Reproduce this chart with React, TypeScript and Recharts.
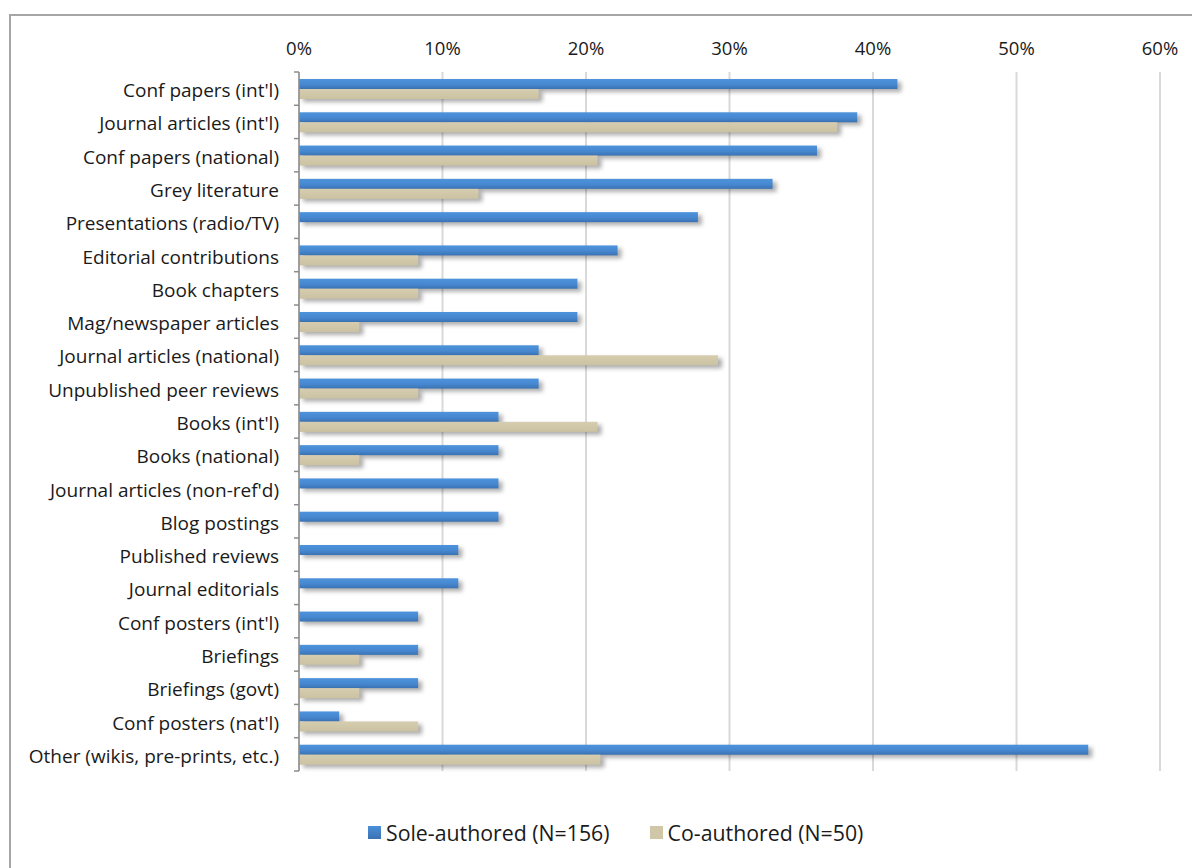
import React from 'react';
import { BarChart, Bar, XAxis, YAxis, CartesianGrid } from 'recharts';

const categories = [
  "Conf papers (int'l)",
  "Journal articles (int'l)",
  'Conf papers (national)',
  'Grey literature',
  'Presentations (radio/TV)',
  'Editorial contributions',
  'Book chapters',
  'Mag/newspaper articles',
  'Journal articles (national)',
  'Unpublished peer reviews',
  "Books (int'l)",
  'Books (national)',
  "Journal articles (non-ref'd)",
  'Blog postings',
  'Published reviews',
  'Journal editorials',
  "Conf posters (int'l)",
  'Briefings',
  'Briefings (govt)',
  "Conf posters (nat'l)",
  'Other (wikis, pre-prints, etc.)',
];

const soleAuthored = [41.7, 38.9, 36.1, 33.0, 27.8, 22.2, 19.4, 19.4, 16.7, 16.7, 13.9, 13.9, 13.9, 13.9, 11.1, 11.1, 8.3, 8.3, 8.3, 2.8, 55.0];
const coAuthored = [16.7, 37.5, 20.8, 12.5, 0, 8.3, 8.3, 4.2, 29.2, 8.3, 20.8, 4.2, 0, 0, 0, 0, 0, 4.2, 4.2, 8.3, 21.0];

const xTicks = [0, 10, 20, 30, 40, 50, 60];

const seriesNames = ['Sole-authored (N=156)', 'Co-authored (N=50)'];

const data = categories.map((name, i) => ({ name, sole: soleAuthored[i], co: coAuthored[i] }));

const FONT = '"Open Sans", Lato, sans-serif';

const makeShape = (fillId: string) => (props: any) => {
  const { x, y, width, height } = props;
  if (!width || width <= 0) return <g />;
  return (
    <g>
      <rect x={x + 4} y={y + 3} width={width} height={height} fill="rgba(0,0,0,0.32)" filter="url(#barShadowBlur)" />
      <rect x={x} y={y} width={width} height={height} fill={`url(#${fillId})`} />
    </g>
  );
};

const CategoryTick = (props: any) => {
  const { x, y, payload, index } = props;
  const off = payload && payload.offset ? payload.offset : 0;
  const last = index === categories.length - 1;
  return (
    <g>
      <line x1={x - 5} x2={x} y1={y - off} y2={y - off} stroke="#8c8c8c" strokeWidth={1.5} />
      {last && <line x1={x - 5} x2={x} y1={y + off} y2={y + off} stroke="#8c8c8c" strokeWidth={1.5} />}
      <text x={x - 20} y={y} dy="0.45em" textAnchor="end" fill="#1a1a1a" fontSize={19} fontFamily={FONT}>
        {payload.value}
      </text>
    </g>
  );
};

export default function App() {
  return (
    <div style={{ position: 'relative', width: 1192, height: 860, overflow: 'hidden', background: '#fff', fontFamily: FONT }}>
      <div
        style={{
          position: 'absolute',
          left: 1,
          top: 6,
          width: 1400,
          height: 1200,
          border: '2px solid #a6a6a6',
          boxSizing: 'border-box',
        }}
      />
      <div style={{ position: 'absolute', left: 0, top: 0 }}>
        <BarChart
          width={1192}
          height={860}
          data={data}
          layout="vertical"
          margin={{ top: 0, right: 40, bottom: 97, left: 0 }}
          barSize={10}
          barGap={0}
        >
          <defs>
            <linearGradient id="blueGrad" x1="0" y1="0" x2="0" y2="1">
              <stop offset="0%" stopColor="#4d93dc" />
              <stop offset="55%" stopColor="#4788d0" />
              <stop offset="100%" stopColor="#3a72b3" />
            </linearGradient>
            <linearGradient id="beigeGrad" x1="0" y1="0" x2="0" y2="1">
              <stop offset="0%" stopColor="#d6cdb0" />
              <stop offset="100%" stopColor="#cbc2a2" />
            </linearGradient>
            <filter id="barShadowBlur" x="-20%" y="-100%" width="140%" height="300%">
              <feGaussianBlur stdDeviation="2" />
            </filter>
          </defs>
          <CartesianGrid horizontal={false} stroke="#d9d9d9" strokeWidth={2} />
          <XAxis
            type="number"
            orientation="top"
            domain={[0, 60]}
            ticks={xTicks}
            tickFormatter={(v: number) => `${v}%`}
            axisLine={false}
            tickLine={false}
            tickMargin={11}
            height={64}
            tick={{ fill: '#1a1a1a', fontSize: 18.5, fontFamily: FONT }}
            interval={0}
          />
          <YAxis
            type="category"
            dataKey="name"
            width={291}
            interval={0}
            tickLine={false}
            tickSize={0}
            tickMargin={0}
            axisLine={{ stroke: '#8c8c8c', strokeWidth: 1.5 }}
            tick={<CategoryTick />}
          />
          <Bar dataKey="sole" name={seriesNames[0]} isAnimationActive={false} shape={makeShape('blueGrad')} />
          <Bar dataKey="co" name={seriesNames[1]} isAnimationActive={false} shape={makeShape('beigeGrad')} />
        </BarChart>
      </div>
      <div
        style={{
          position: 'absolute',
          left: 360,
          top: 810,
          display: 'flex',
          alignItems: 'center',
          fontSize: 21.3,
          color: '#1a1a1a',
          fontFamily: FONT,
        }}
      >
        <span style={{ display: 'inline-block', width: 13, height: 13, background: 'linear-gradient(#4a8fd8, #3a72b3)', marginRight: 5 }} />
        <span>{seriesNames[0]}</span>
        <span style={{ display: 'inline-block', width: 13, height: 13, background: '#d0c7a8', marginLeft: 40, marginRight: 5 }} />
        <span>{seriesNames[1]}</span>
      </div>
    </div>
  );
}
